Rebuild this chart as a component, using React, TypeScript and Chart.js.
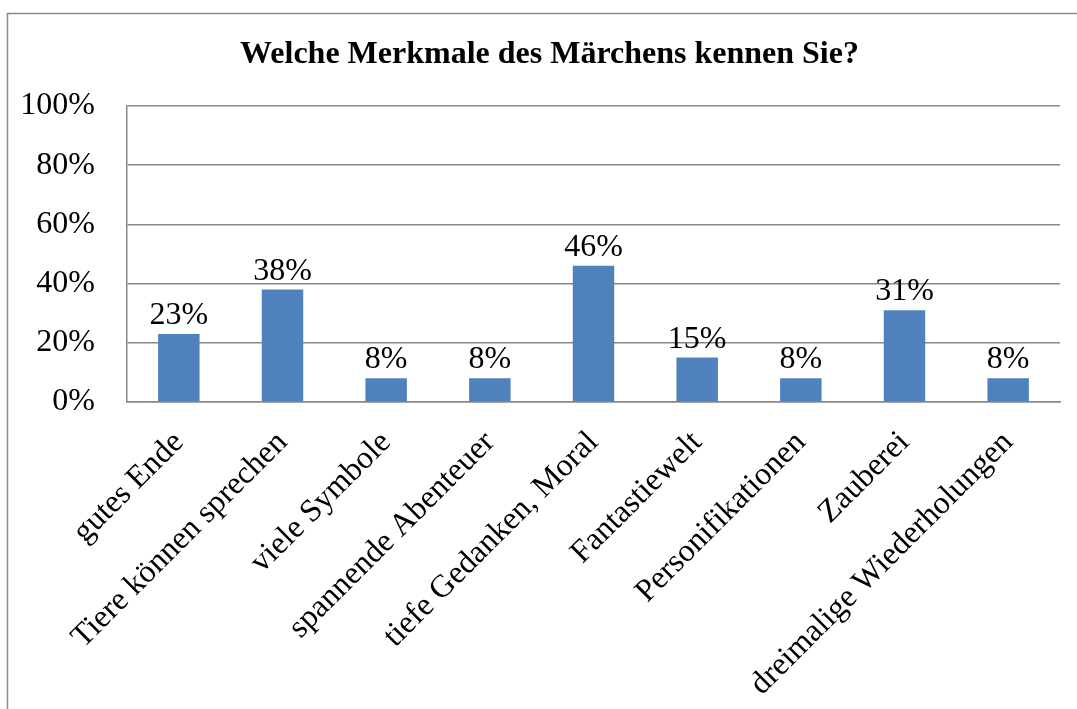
import React, { useEffect, useRef } from "react";
import { Chart, registerables } from "chart.js";

Chart.register(...registerables);

const title = "Welche Merkmale des Märchens kennen Sie?";
const categories = [
  "gutes Ende",
  "Tiere können sprechen",
  "viele Symbole",
  "spannende Abenteuer",
  "tiefe Gedanken, Moral",
  "Fantastiewelt",
  "Personifikationen",
  "Zauberei",
  "dreimalige Wiederholungen",
];
const values = [23, 38, 8, 8, 46, 15, 8, 31, 8];
const yTicks = [0, 20, 40, 60, 80, 100];

const FONT = '"Liberation Serif", "Times New Roman", serif';
const GRID = "#888888";

const framePlugin = {
  id: "frame",
  beforeDraw(chart: any) {
    const ctx = chart.ctx;
    ctx.save();
    ctx.fillStyle = "#ffffff";
    ctx.fillRect(0, 0, chart.width, chart.height);
    ctx.strokeStyle = "#8a8a8a";
    ctx.lineWidth = 1.5;
    ctx.beginPath();
    ctx.moveTo(7.5, chart.height + 5);
    ctx.lineTo(7.5, 13.5);
    ctx.lineTo(chart.width + 5, 13.5);
    ctx.stroke();
    ctx.fillStyle = "#000000";
    ctx.font = `bold 32px ${FONT}`;
    ctx.textAlign = "center";
    ctx.textBaseline = "alphabetic";
    ctx.fillText(title, 549.5, 63);
    ctx.restore();
  },
};

const labelPlugin = {
  id: "barLabels",
  afterDatasetsDraw(chart: any) {
    const ctx = chart.ctx;
    const meta = chart.getDatasetMeta(0);
    ctx.save();
    ctx.fillStyle = "#000000";
    ctx.font = `32px ${FONT}`;
    ctx.textAlign = "center";
    ctx.textBaseline = "alphabetic";
    meta.data.forEach((bar: any, i: number) => {
      ctx.fillText(values[i] + "%", bar.x, bar.y - 10);
    });
    ctx.restore();
  },
};

export default function App() {
  const ref = useRef<HTMLCanvasElement>(null);
  useEffect(() => {
    if (!ref.current) return;
    const chart = new Chart(ref.current, {
      type: "bar",
      data: {
        labels: categories,
        datasets: [
          {
            data: values,
            backgroundColor: "#4F81BD",
            borderWidth: 0,
            barPercentage: 0.4,
            categoryPercentage: 1,
          },
        ],
      },
      options: {
        animation: false,
        responsive: false,
        devicePixelRatio: 1,
        layout: { padding: { left: 7, right: 17, top: 106, bottom: 0 } },
        plugins: {
          legend: { display: false },
          tooltip: { enabled: false },
          title: { display: false },
        },
        scales: {
          x: {
            grid: { display: false },
            border: { display: true, color: GRID, width: 1.5 },
            ticks: {
              color: "#000000",
              font: { family: FONT, size: 32 },
              maxRotation: 45,
              minRotation: 45,
              autoSkip: false,
              padding: 14,
            },
            afterFit(scale: any) {
              scale.height = 307;
            },
          },
          y: {
            min: 0,
            max: 100,
            grid: { color: GRID, lineWidth: 1.5, drawTicks: false },
            border: { display: true, color: GRID, width: 1.5 },
            afterBuildTicks(scale: any) {
              scale.ticks = yTicks.map((v) => ({ value: v }));
            },
            ticks: {
              color: "#000000",
              font: { family: FONT, size: 32 },
              padding: 32,
              callback: (v: any) => v + "%",
            },
            afterFit(scale: any) {
              scale.width = 120;
            },
          },
        },
      },
      plugins: [framePlugin, labelPlugin],
    });
    return () => chart.destroy();
  }, []);
  return (
    <div style={{ position: "absolute", left: 0, top: 0, width: 1077, height: 709 }}>
      <canvas ref={ref} width={1077} height={709} />
    </div>
  );
}
